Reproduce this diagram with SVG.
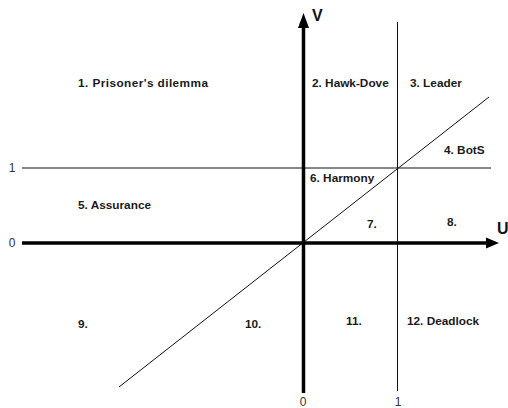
<svg xmlns="http://www.w3.org/2000/svg" width="508" height="408" viewBox="0 0 508 408">
<defs>
<style>
.lbl{font-family:"Liberation Sans",Arial,sans-serif;font-size:11.8px;font-weight:bold;fill:#1a1a1a}
.tick{font-family:"Liberation Sans",Arial,sans-serif;font-size:12px;fill:#333;text-anchor:middle}
.axl{font-family:"Liberation Sans",Arial,sans-serif;font-size:16px;font-weight:bold;fill:#111}
.thin{stroke:#111;stroke-width:1;fill:none}
.axis{stroke:#000;stroke-width:3.5;fill:none}
</style>
</defs>
<rect width="508" height="408" fill="#fff"/>
<g id="connectors">
<line class="thin" x1="22" y1="168" x2="491" y2="168"/>
<line class="thin" x1="397.5" y1="22" x2="397.5" y2="391"/>
<line class="thin" x1="119" y1="387" x2="489" y2="97" stroke="#333"/>
<line class="axis" x1="22" y1="243" x2="489" y2="243"/>
<polygon points="486,237.5 499,243 486,248.5" fill="#000"/>
<line class="axis" x1="303.5" y1="393" x2="303.5" y2="26"/>
<polygon points="298,28 303.5,13 309,28" fill="#000"/>
</g>
<g id="axis-labels">
<text class="axl" x="312" y="21">V</text>
<text class="axl" x="497" y="234">U</text>
<text class="tick" x="12" y="172">1</text>
<text class="tick" x="12" y="247">0</text>
<text class="tick" x="303" y="406">0</text>
<text class="tick" x="398" y="406">1</text>
</g>
<g id="n1"><text class="lbl" x="78" y="87" textLength="130">1. Prisoner's dilemma</text></g>
<g id="n2"><text class="lbl" x="312" y="87">2. Hawk-Dove</text></g>
<g id="n3"><text class="lbl" x="410" y="87">3. Leader</text></g>
<g id="n4"><text class="lbl" x="444" y="154">4. BotS</text></g>
<g id="n5"><text class="lbl" x="78" y="209">5. Assurance</text></g>
<g id="n6"><text class="lbl" x="310" y="182">6. Harmony</text></g>
<g id="n7"><text class="lbl" x="367" y="228">7.</text></g>
<g id="n8"><text class="lbl" x="447" y="226">8.</text></g>
<g id="n9"><text class="lbl" x="78" y="328">9.</text></g>
<g id="n10"><text class="lbl" x="245" y="328">10.</text></g>
<g id="n11"><text class="lbl" x="346" y="325">11.</text></g>
<g id="n12"><text class="lbl" x="407" y="325">12. Deadlock</text></g>
</svg>
